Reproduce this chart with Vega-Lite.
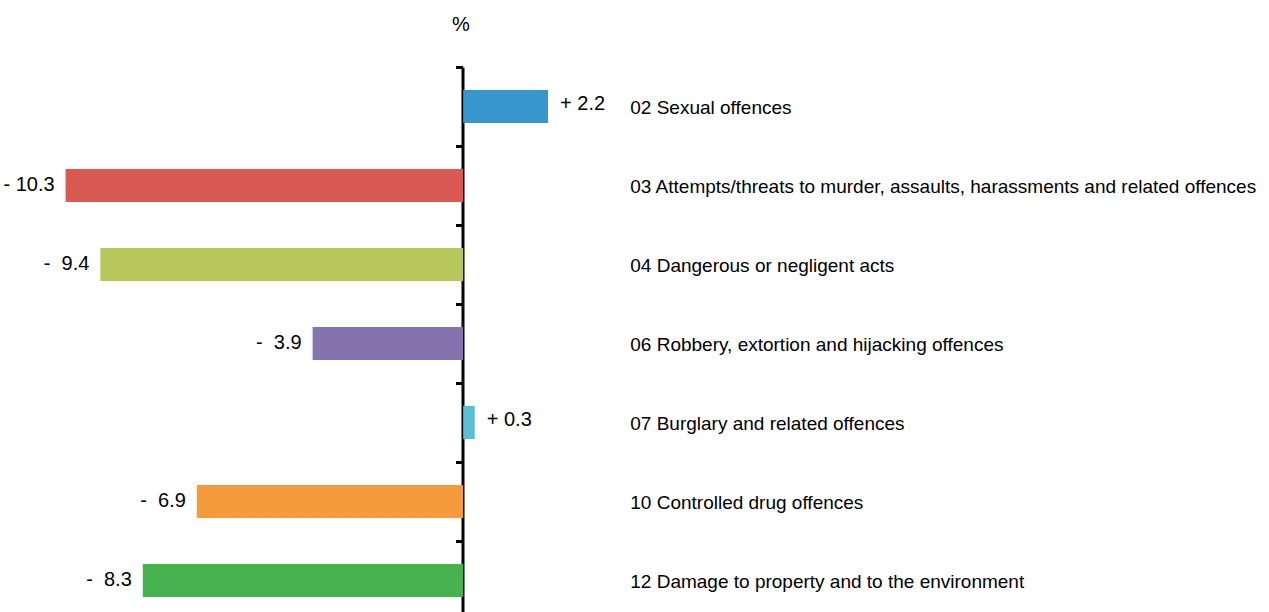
{
  "$schema": "https://vega.github.io/schema/vega-lite/v6.json",
  "width": 1269,
  "height": 612,
  "autosize": "none",
  "padding": 0,
  "background": "white",
  "config": {"view": {"stroke": null}, "font": "Liberation Sans"},
  "data": {
    "values": [
      {"cat": "02 Sexual offences", "value": 2.2, "label": "+ 2.2", "color": "#3796CE"},
      {"cat": "03 Attempts/threats to murder, assaults, harassments and related offences", "value": -10.3, "label": "- 10.3", "color": "#D95A53"},
      {"cat": "04 Dangerous or negligent acts", "value": -9.4, "label": "-\u00a0\u00a09.4", "color": "#B8C75C"},
      {"cat": "06 Robbery, extortion and hijacking offences", "value": -3.9, "label": "-\u00a0\u00a03.9", "color": "#8573AF"},
      {"cat": "07 Burglary and related offences", "value": 0.3, "label": "+ 0.3", "color": "#5ABFD2"},
      {"cat": "10 Controlled drug offences", "value": -6.9, "label": "-\u00a0\u00a06.9", "color": "#F59B3B"},
      {"cat": "12 Damage to property and to the environment", "value": -8.3, "label": "-\u00a0\u00a08.3", "color": "#46B34F"}
    ]
  },
  "encoding": {
    "y": {
      "field": "cat",
      "type": "nominal",
      "sort": null,
      "scale": {"range": [67, 620], "padding": 0},
      "axis": {
        "orient": "left",
        "offset": -462.5,
        "bandPosition": 0,
        "labels": false,
        "grid": false,
        "domainColor": "black",
        "domainWidth": 3,
        "tickColor": "black",
        "tickWidth": 3,
        "tickSize": 7,
        "title": "%",
        "titleAngle": 0,
        "titleX": -2,
        "titleY": 24,
        "titleAlign": "center",
        "titleBaseline": "middle",
        "titleFontSize": 20,
        "titleFontWeight": "normal",
        "titleColor": "black",
        "titleFont": "Liberation Sans"
      }
    }
  },
  "layer": [
    {
      "mark": {"type": "bar", "height": {"band": 0.42}},
      "encoding": {
        "x": {
          "field": "value",
          "type": "quantitative",
          "scale": {"domain": [-12, 20.88], "nice": false, "zero": false},
          "axis": null
        },
        "color": {"field": "color", "type": "nominal", "scale": null}
      }
    },
    {
      "transform": [{"filter": "datum.value < 0"}],
      "mark": {"type": "text", "fontSize": 20, "baseline": "middle", "align": "right", "color": "black", "dx": -11, "dy": -1},
      "encoding": {
        "x": {"field": "value", "type": "quantitative"},
        "text": {"field": "label"}
      }
    },
    {
      "transform": [{"filter": "datum.value >= 0"}],
      "mark": {"type": "text", "fontSize": 20, "baseline": "middle", "align": "left", "color": "black", "dx": 12, "dy": -3},
      "encoding": {
        "x": {"field": "value", "type": "quantitative"},
        "text": {"field": "label"}
      }
    },
    {
      "mark": {"type": "text", "fontSize": 19, "baseline": "middle", "align": "left", "color": "black", "dy": 1},
      "encoding": {
        "x": {"datum": 4.33},
        "text": {"field": "cat"}
      }
    }
  ]
}
